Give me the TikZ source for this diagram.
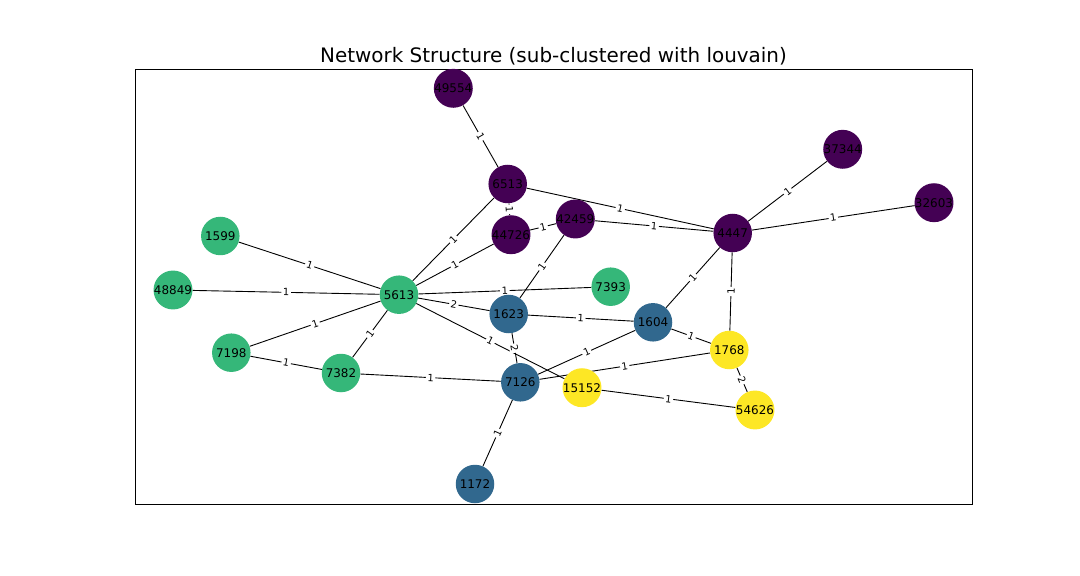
\documentclass[tikz,border=0pt]{standalone}
\usepackage{fontspec}
\setmainfont{DejaVu Sans}
\usetikzlibrary{backgrounds}
\definecolor{vpurple}{HTML}{440154}
\definecolor{vblue}{HTML}{31688E}
\definecolor{vgreen}{HTML}{35B779}
\definecolor{vyellow}{HTML}{FDE725}

\begin{document}
\begin{tikzpicture}[
    x=1bp, y=-1bp,
    vertex/.style={circle, minimum size=38.5bp, inner sep=0pt, font=\fontsize{12}{14}\selectfont},
    weight/.style={midway, sloped, fill=white, rounded corners=2bp, inner sep=1.5bp, font=\fontsize{10}{12}\selectfont},
    link/.style={draw=black, line width=0.9bp}
]
\useasboundingbox (0,0) rectangle (1080,576);

% Moldura e titulo
\draw[line width=0.8bp] (135.5,69.3) rectangle (972.3,504);
\node[anchor=base, font=\fontsize{20}{24}\selectfont] (title) at (553.5,63) {Network Structure (sub-clustered with louvain)};

% Comunidade roxa
\node[vertex, fill=vpurple] (n49554) at (453.3,88.3) {49554};
\node[vertex, fill=vpurple] (n6513) at (507.7,184) {6513};
\node[vertex, fill=vpurple] (n44726) at (511,234.7) {44726};
\node[vertex, fill=vpurple] (n42459) at (575.3,219) {42459};
\node[vertex, fill=vpurple] (n4447) at (732.7,233) {4447};
\node[vertex, fill=vpurple] (n37344) at (842.7,149.3) {37344};
\node[vertex, fill=vpurple] (n32603) at (934,202.7) {32603};

% Comunidade verde
\node[vertex, fill=vgreen] (n1599) at (220.3,236) {1599};
\node[vertex, fill=vgreen] (n48849) at (173,290) {48849};
\node[vertex, fill=vgreen] (n5613) at (399,294.7) {5613};
\node[vertex, fill=vgreen] (n7393) at (610.7,286.7) {7393};
\node[vertex, fill=vgreen] (n7198) at (231.3,352.7) {7198};
\node[vertex, fill=vgreen] (n7382) at (341,373) {7382};

% Comunidade azul
\node[vertex, fill=vblue] (n1623) at (508.7,314) {1623};
\node[vertex, fill=vblue] (n1604) at (653,322.3) {1604};
\node[vertex, fill=vblue] (n7126) at (520.3,382.3) {7126};
\node[vertex, fill=vblue] (n1172) at (475,484) {1172};

% Comunidade amarela
\node[vertex, fill=vyellow] (n1768) at (729.3,350) {1768};
\node[vertex, fill=vyellow] (n15152) at (582,387.7) {15152};
\node[vertex, fill=vyellow] (n54626) at (755,410) {54626};

% Arestas (atras dos nos)
\begin{scope}[on background layer]
\draw[link] (n49554) -- node[weight] {1} (n6513);
\draw[link] (n6513) -- node[weight] {1} (n44726);
\draw[link] (n6513) -- node[weight] {1} (n4447);
\draw[link] (n6513) -- node[weight] {1} (n5613);
\draw[link] (n44726) -- node[weight] {1} (n42459);
\draw[link] (n44726) -- node[weight] {1} (n5613);
\draw[link] (n42459) -- node[weight] {1} (n4447);
\draw[link] (n42459) -- node[weight] {1} (n1623);
\draw[link] (n4447) -- node[weight] {1} (n37344);
\draw[link] (n4447) -- node[weight] {1} (n32603);
\draw[link] (n4447) -- node[weight] {1} (n1604);
\draw[link] (n4447) -- node[weight] {1} (n1768);
\draw[link] (n1599) -- node[weight] {1} (n5613);
\draw[link] (n48849) -- node[weight] {1} (n5613);
\draw[link] (n5613) -- node[weight] {1} (n7393);
\draw[link] (n5613) -- node[weight] {2} (n1623);
\draw[link] (n5613) -- node[weight] {1} (n15152);
\draw[link] (n7198) -- node[weight] {1} (n5613);
\draw[link] (n7382) -- node[weight] {1} (n5613);
\draw[link] (n7198) -- node[weight] {1} (n7382);
\draw[link] (n7382) -- node[weight] {1} (n7126);
\draw[link] (n1623) -- node[weight] {1} (n1604);
\draw[link] (n1623) -- node[weight] {2} (n7126);
\draw[link] (n7126) -- node[weight] {1} (n1604);
\draw[link] (n7126) -- node[weight] {1} (n1768);
\draw[link] (n7126) -- node[weight] {1} (n1172);
\draw[link] (n15152) -- node[weight] {1} (n54626);
\draw[link] (n1604) -- node[weight] {1} (n1768);
\draw[link] (n1768) -- node[weight] {2} (n54626);
\end{scope}

\end{tikzpicture}
\end{document}
